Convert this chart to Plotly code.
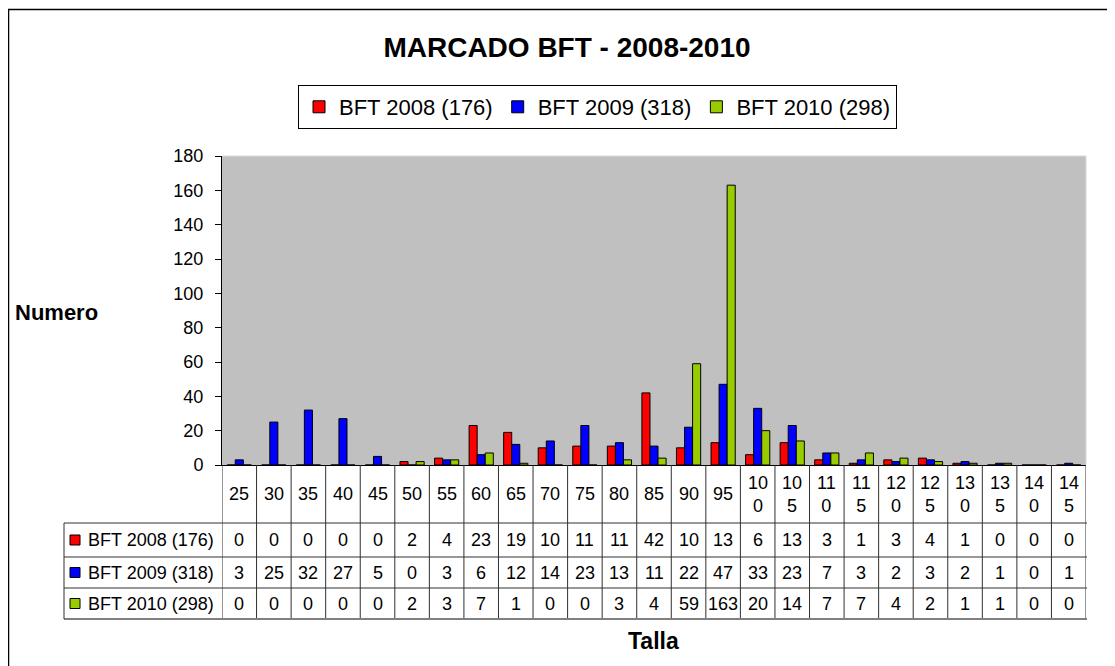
import plotly.graph_objects as go

# ---------------- data ----------------
tallas = [25, 30, 35, 40, 45, 50, 55, 60, 65, 70, 75, 80, 85, 90, 95,
          100, 105, 110, 115, 120, 125, 130, 135, 140, 145]
bft_2008 = [0, 0, 0, 0, 0, 2, 4, 23, 19, 10, 11, 11, 42, 10, 13,
            6, 13, 3, 1, 3, 4, 1, 0, 0, 0]
bft_2009 = [3, 25, 32, 27, 5, 0, 3, 6, 12, 14, 23, 13, 11, 22, 47,
            33, 23, 7, 3, 2, 3, 2, 1, 0, 1]
bft_2010 = [0, 0, 0, 0, 0, 2, 3, 7, 1, 0, 0, 3, 4, 59, 163,
            20, 14, 7, 7, 4, 2, 1, 1, 0, 0]
series_years = ["2008", "2009", "2010"]
series_values = [bft_2008, bft_2009, bft_2010]
series_colors = ["#FF0000", "#0000FF", "#99CC00"]

y_ticks = [0, 20, 40, 60, 80, 100, 120, 140, 160, 180]
title_text = "MARCADO BFT - 2008-2010"
y_title = "Numero"
x_title = "Talla"

# ---------------- layout geometry (window pixels) ----------------
WIN_W, WIN_H = 1115, 666
OFF = 8                      # page body margin
FW, FH = WIN_W - OFF, WIN_H - OFF
L, R, T, B = 222, 1086, 156, 465
W, H = R - L, B - T
FONT = "Arial, Liberation Sans, Helvetica, sans-serif"


def px(x):
    return (x - L) / W


def py(y):
    return (B - y) / H


cats = [str(t) for t in tallas]
names = [f"BFT {yr} ({sum(v)})" for yr, v in zip(series_years, series_values)]


def wrap(s):
    return s if len(s) <= 2 else s[:2] + "<br>" + s[2:]


fig = go.Figure()
for name, vals, col in zip(names, series_values, series_colors):
    fig.add_trace(go.Bar(
        x=cats, y=vals, name=name,
        marker=dict(color=col, line=dict(color="#000000", width=1)),
    ))

shapes = []
annotations = []

# table geometry
header_top, header_bot = 465, 523
row_bounds = [523, 557, 588, 619]
row_centers = [(row_bounds[i] + row_bounds[i + 1]) / 2 for i in range(3)]
leg_left = 64

# vertical lines of table columns
for i in range(len(cats) + 1):
    shapes.append(dict(type="line", xref="x", yref="paper",
                       x0=i - 0.5, x1=i - 0.5, y0=py(header_top), y1=py(row_bounds[-1]),
                       line=dict(color="#303030", width=1)))
# horizontal lines
for yb in row_bounds[:-1]:
    shapes.append(dict(type="line", xref="paper", yref="paper",
                       x0=px(leg_left), x1=px(R + 1), y0=py(yb), y1=py(yb),
                       line=dict(color="#303030", width=1)))
shapes.append(dict(type="line", xref="paper", yref="paper",
                   x0=px(leg_left), x1=px(R + 1), y0=py(row_bounds[-1]), y1=py(row_bounds[-1]),
                   line=dict(color="#808080", width=2)))
# left border of legend column
shapes.append(dict(type="line", xref="paper", yref="paper",
                   x0=px(leg_left), x1=px(leg_left), y0=py(row_bounds[0]), y1=py(row_bounds[-1]),
                   line=dict(color="#303030", width=1)))
# plot area light border top / right
shapes.append(dict(type="line", xref="paper", yref="paper", x0=0, x1=1, y0=1, y1=1,
                   line=dict(color="#d8d8d8", width=1)))
shapes.append(dict(type="line", xref="paper", yref="paper", x0=1, x1=1, y0=0, y1=1,
                   line=dict(color="#d8d8d8", width=1)))
# outer chart border
shapes.append(dict(type="rect", xref="paper", yref="paper",
                   x0=px(8.5), x1=px(WIN_W + 10), y0=py(9.5), y1=py(WIN_H + 10),
                   line=dict(color="#000000", width=1.5)))

# header labels (numeric category index positions)
for i, c in enumerate(cats):
    annotations.append(dict(x=i, xref="x", y=py((header_top + header_bot) / 2), yref="paper",
                            text=wrap(c), showarrow=False,
                            font=dict(family=FONT, size=18, color="#000"),
                            xanchor="center", yanchor="middle"))
# table values and legend keys
for r, (name, vals, col) in enumerate(zip(names, series_values, series_colors)):
    yc = row_centers[r]
    shapes.append(dict(type="rect", xref="paper", yref="paper",
                       x0=px(70), x1=px(80), y0=py(yc - 5), y1=py(yc + 5),
                       fillcolor=col, line=dict(color="#000", width=1)))
    annotations.append(dict(x=px(86), xref="paper", y=py(yc), yref="paper",
                            text=name, showarrow=False,
                            font=dict(family=FONT, size=18, color="#000"),
                            xanchor="left", yanchor="middle"))
    for i, v in enumerate(vals):
        annotations.append(dict(x=i, xref="x", y=py(yc), yref="paper",
                                text=str(v), showarrow=False,
                                font=dict(family=FONT, size=18, color="#000"),
                                xanchor="center", yanchor="middle"))

# axis titles
annotations.append(dict(x=px(56), xref="paper", y=py(312), yref="paper",
                        text=f"<b>{y_title}</b>", showarrow=False,
                        font=dict(family=FONT, size=22, color="#000"),
                        xanchor="center", yanchor="middle"))
annotations.append(dict(x=px(653), xref="paper", y=py(641), yref="paper",
                        text=f"<b>{x_title}</b>", showarrow=False,
                        font=dict(family=FONT, size=23, color="#000"),
                        xanchor="center", yanchor="middle"))

fig.update_layout(
    width=FW, height=FH,
    margin=dict(l=L - OFF, r=WIN_W - R, t=T - OFF, b=WIN_H - B, pad=0),
    paper_bgcolor="#FFFFFF",
    plot_bgcolor="#C0C0C0",
    barmode="group", bargap=0.3, bargroupgap=0,
    title=dict(text=f"<b>{title_text}</b>", x=(567 - OFF) / FW, xref="container", xanchor="center",
               y=1 - (47 - OFF) / FH, yref="container", yanchor="middle",
               font=dict(family=FONT, size=28, color="#000")),
    legend=dict(orientation="h", x=px(597.5), xanchor="center", y=py(85), yanchor="top",
                bordercolor="#000", borderwidth=1, bgcolor="#FFFFFF",
                font=dict(family=FONT, size=22, color="#000"),
                itemclick=False, itemdoubleclick=False, traceorder="normal"),
    xaxis=dict(type="category", range=[-0.5, len(cats) - 0.5], showticklabels=False,
               ticks="", showgrid=False, showline=True, linecolor="#000", linewidth=1,
               zeroline=False, fixedrange=True),
    yaxis=dict(range=[0, 180], tickvals=y_ticks, ticks="outside", ticklen=6, tickcolor="#000",
               showgrid=False, showline=True, linecolor="#000", linewidth=1, zeroline=False,
               tickfont=dict(family=FONT, size=18, color="#000"), ticklabelstandoff=8,
               fixedrange=True),
    shapes=shapes,
    annotations=annotations,
    showlegend=True,
)

fig.write_html("out.html")
